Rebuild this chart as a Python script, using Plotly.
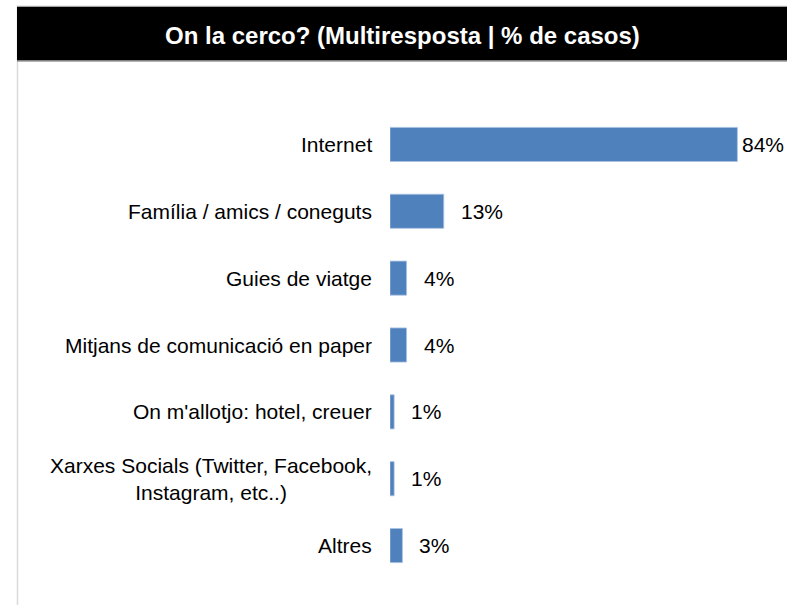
import plotly.graph_objects as go

# Survey answers: where respondents look for information (multiple choice, % of cases)
categories = [
    "Internet",
    "Família / amics / coneguts",
    "Guies de viatge",
    "Mitjans de comunicació en paper",
    "On m'allotjo: hotel, creuer",
    "Xarxes Socials (Twitter, Facebook,<br>Instagram, etc..)",
    "Altres",
]
values = [84, 13, 4, 4, 1, 1, 3]
title_text = "On la cerco? (Multiresposta | % de casos)"

W, H = 787, 605
ML, MR, MT, MB = 390, 0, 110.5, 25.5
XMAX = 96
plot_w = W - ML - MR
plot_h = H - MT - MB
px_per_unit = plot_w / XMAX

FONT = "Liberation Sans, Arial, sans-serif"
BAR_COLOR = "#4F81BD"


def px_x(p):
    return (p - ML) / plot_w


def px_y(p):
    return (H - MB - p) / plot_h


fig = go.Figure(
    go.Bar(
        x=values,
        y=list(range(len(categories))),
        orientation="h",
        marker=dict(color=BAR_COLOR, line=dict(color="#A9C2E2", width=0.8)),
        hoverinfo="skip",
    )
)

annotations = []
for i, (cat, v) in enumerate(zip(categories, values)):
    # category label to the left of the bar, multi-line labels centred
    annotations.append(dict(
        x=0, y=i, xref="x", yref="y", text=cat, showarrow=False,
        xanchor="right", yanchor="middle", align="center", xshift=-16,
        font=dict(family=FONT, size=21, color="#000000"),
    ))
    # value label, kept inside the right edge
    shift = min(15, (XMAX - v) * px_per_unit - 47)
    annotations.append(dict(
        x=v, y=i, xref="x", yref="y", text=f"{v}%", showarrow=False,
        xanchor="left", yanchor="middle", xshift=shift,
        font=dict(family=FONT, size=21, color="#000000"),
    ))

annotations.append(dict(
    x=px_x((17 + 787) / 2), y=px_y(35), xref="paper", yref="paper",
    text=f"<b>{title_text}</b>", showarrow=False,
    xanchor="center", yanchor="middle",
    font=dict(family=FONT, size=24, color="#FFFFFF"),
))

shapes = [
    # light frame around the panel
    dict(type="rect", xref="paper", yref="paper",
         x0=px_x(17.5), x1=px_x(800), y0=px_y(700), y1=px_y(5.5),
         line=dict(color="#D9D9D9", width=1.5), fillcolor="rgba(0,0,0,0)",
         layer="below"),
    # black header band
    dict(type="rect", xref="paper", yref="paper",
         x0=px_x(17), x1=px_x(800), y0=px_y(60), y1=px_y(6),
         line=dict(width=0), fillcolor="#000000", layer="below"),
    dict(type="line", xref="paper", yref="paper",
         x0=px_x(17), x1=px_x(800), y0=px_y(60.5), y1=px_y(60.5),
         line=dict(color="#808080", width=1)),
]

fig.update_layout(
    width=W, height=H,
    margin=dict(l=ML, r=MR, t=MT, b=MB, pad=0),
    paper_bgcolor="#FFFFFF", plot_bgcolor="#FFFFFF",
    showlegend=False,
    bargap=0.49,
    xaxis=dict(range=[0, XMAX], visible=False, fixedrange=True),
    yaxis=dict(range=[len(categories) - 0.5, -0.5], visible=False, fixedrange=True),
    annotations=annotations,
    shapes=shapes,
)

fig.write_html("out.html", config={"displayModeBar": False})
